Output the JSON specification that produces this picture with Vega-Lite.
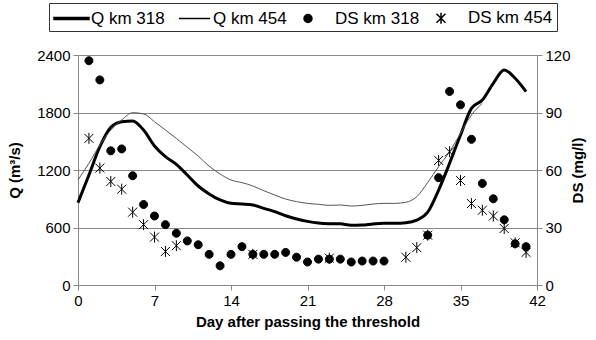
{
  "$schema": "https://vega.github.io/schema/vega-lite/v6.json",
  "width": 459,
  "height": 230,
  "autosize": {"type": "none"},
  "padding": {"left": 78, "top": 55, "right": 59, "bottom": 55},
  "background": "white",
  "config": {
    "view": {"stroke": null},
    "font": "Liberation Sans",
    "axis": {
      "labelFont": "Liberation Sans",
      "labelFontSize": 15,
      "labelColor": "black",
      "titleFont": "Liberation Sans",
      "titleFontSize": 15,
      "titleFontWeight": "bold",
      "titleColor": "black",
      "domainColor": "#888888",
      "tickColor": "#888888",
      "tickSize": 5,
      "labelPadding": 3,
      "gridColor": "#888888",
      "gridOpacity": 1
    }
  },
  "datasets": {
    "q": [
      {"day": 0, "series": "Q km 318", "Q": 859},
      {"day": 1, "series": "Q km 318", "Q": 1148},
      {"day": 2, "series": "Q km 318", "Q": 1443},
      {"day": 3, "series": "Q km 318", "Q": 1645},
      {"day": 4, "series": "Q km 318", "Q": 1704},
      {"day": 5, "series": "Q km 318", "Q": 1712},
      {"day": 6, "series": "Q km 318", "Q": 1617},
      {"day": 7, "series": "Q km 318", "Q": 1450},
      {"day": 8, "series": "Q km 318", "Q": 1339},
      {"day": 9, "series": "Q km 318", "Q": 1259},
      {"day": 10, "series": "Q km 318", "Q": 1148},
      {"day": 11, "series": "Q km 318", "Q": 1033},
      {"day": 12, "series": "Q km 318", "Q": 950},
      {"day": 13, "series": "Q km 318", "Q": 887},
      {"day": 14, "series": "Q km 318", "Q": 852},
      {"day": 15, "series": "Q km 318", "Q": 845},
      {"day": 16, "series": "Q km 318", "Q": 835},
      {"day": 17, "series": "Q km 318", "Q": 800},
      {"day": 18, "series": "Q km 318", "Q": 765},
      {"day": 19, "series": "Q km 318", "Q": 723},
      {"day": 20, "series": "Q km 318", "Q": 689},
      {"day": 21, "series": "Q km 318", "Q": 664},
      {"day": 22, "series": "Q km 318", "Q": 647},
      {"day": 23, "series": "Q km 318", "Q": 640},
      {"day": 24, "series": "Q km 318", "Q": 638},
      {"day": 25, "series": "Q km 318", "Q": 623},
      {"day": 26, "series": "Q km 318", "Q": 626},
      {"day": 27, "series": "Q km 318", "Q": 637},
      {"day": 28, "series": "Q km 318", "Q": 644},
      {"day": 29, "series": "Q km 318", "Q": 644},
      {"day": 30, "series": "Q km 318", "Q": 650},
      {"day": 31, "series": "Q km 318", "Q": 678},
      {"day": 32, "series": "Q km 318", "Q": 760},
      {"day": 33, "series": "Q km 318", "Q": 991},
      {"day": 34, "series": "Q km 318", "Q": 1270},
      {"day": 35, "series": "Q km 318", "Q": 1565},
      {"day": 36, "series": "Q km 318", "Q": 1843},
      {"day": 37, "series": "Q km 318", "Q": 1930},
      {"day": 38, "series": "Q km 318", "Q": 2104},
      {"day": 39, "series": "Q km 318", "Q": 2243},
      {"day": 40, "series": "Q km 318", "Q": 2157},
      {"day": 41, "series": "Q km 318", "Q": 2017},
      {"day": 0, "series": "Q km 454", "Q": 1096},
      {"day": 1, "series": "Q km 454", "Q": 1270},
      {"day": 2, "series": "Q km 454", "Q": 1461},
      {"day": 3, "series": "Q km 454", "Q": 1617},
      {"day": 4, "series": "Q km 454", "Q": 1722},
      {"day": 5, "series": "Q km 454", "Q": 1798},
      {"day": 6, "series": "Q km 454", "Q": 1785},
      {"day": 7, "series": "Q km 454", "Q": 1704},
      {"day": 8, "series": "Q km 454", "Q": 1617},
      {"day": 9, "series": "Q km 454", "Q": 1530},
      {"day": 10, "series": "Q km 454", "Q": 1437},
      {"day": 11, "series": "Q km 454", "Q": 1345},
      {"day": 12, "series": "Q km 454", "Q": 1240},
      {"day": 13, "series": "Q km 454", "Q": 1158},
      {"day": 14, "series": "Q km 454", "Q": 1096},
      {"day": 15, "series": "Q km 454", "Q": 1068},
      {"day": 16, "series": "Q km 454", "Q": 1033},
      {"day": 17, "series": "Q km 454", "Q": 984},
      {"day": 18, "series": "Q km 454", "Q": 939},
      {"day": 19, "series": "Q km 454", "Q": 897},
      {"day": 20, "series": "Q km 454", "Q": 870},
      {"day": 21, "series": "Q km 454", "Q": 852},
      {"day": 22, "series": "Q km 454", "Q": 842},
      {"day": 23, "series": "Q km 454", "Q": 831},
      {"day": 24, "series": "Q km 454", "Q": 835},
      {"day": 25, "series": "Q km 454", "Q": 824},
      {"day": 26, "series": "Q km 454", "Q": 831},
      {"day": 27, "series": "Q km 454", "Q": 845},
      {"day": 28, "series": "Q km 454", "Q": 852},
      {"day": 29, "series": "Q km 454", "Q": 852},
      {"day": 30, "series": "Q km 454", "Q": 863},
      {"day": 31, "series": "Q km 454", "Q": 922},
      {"day": 32, "series": "Q km 454", "Q": 1070},
      {"day": 33, "series": "Q km 454", "Q": 1235},
      {"day": 34, "series": "Q km 454", "Q": 1391},
      {"day": 35, "series": "Q km 454", "Q": 1583},
      {"day": 36, "series": "Q km 454", "Q": 1774},
      {"day": 37, "series": "Q km 454", "Q": 1896}
    ],
    "ds": [
      {"day": 1, "series": "DS km 318", "DS": 117},
      {"day": 2, "series": "DS km 318", "DS": 107},
      {"day": 3, "series": "DS km 318", "DS": 70},
      {"day": 4, "series": "DS km 318", "DS": 71},
      {"day": 5, "series": "DS km 318", "DS": 57},
      {"day": 6, "series": "DS km 318", "DS": 42},
      {"day": 7, "series": "DS km 318", "DS": 36},
      {"day": 8, "series": "DS km 318", "DS": 31.5},
      {"day": 9, "series": "DS km 318", "DS": 27},
      {"day": 10, "series": "DS km 318", "DS": 23},
      {"day": 11, "series": "DS km 318", "DS": 21},
      {"day": 12, "series": "DS km 318", "DS": 16},
      {"day": 13, "series": "DS km 318", "DS": 10},
      {"day": 14, "series": "DS km 318", "DS": 16},
      {"day": 15, "series": "DS km 318", "DS": 20},
      {"day": 16, "series": "DS km 318", "DS": 16},
      {"day": 17, "series": "DS km 318", "DS": 16},
      {"day": 18, "series": "DS km 318", "DS": 16},
      {"day": 19, "series": "DS km 318", "DS": 17},
      {"day": 20, "series": "DS km 318", "DS": 14.5},
      {"day": 21, "series": "DS km 318", "DS": 12},
      {"day": 22, "series": "DS km 318", "DS": 13.5},
      {"day": 23, "series": "DS km 318", "DS": 13.5},
      {"day": 24, "series": "DS km 318", "DS": 13.5},
      {"day": 25, "series": "DS km 318", "DS": 12},
      {"day": 26, "series": "DS km 318", "DS": 12.5},
      {"day": 27, "series": "DS km 318", "DS": 12.5},
      {"day": 28, "series": "DS km 318", "DS": 12.5},
      {"day": 32, "series": "DS km 318", "DS": 26},
      {"day": 33, "series": "DS km 318", "DS": 56},
      {"day": 34, "series": "DS km 318", "DS": 101},
      {"day": 35, "series": "DS km 318", "DS": 94},
      {"day": 36, "series": "DS km 318", "DS": 76},
      {"day": 37, "series": "DS km 318", "DS": 53},
      {"day": 38, "series": "DS km 318", "DS": 45},
      {"day": 39, "series": "DS km 318", "DS": 34},
      {"day": 40, "series": "DS km 318", "DS": 21.5},
      {"day": 41, "series": "DS km 318", "DS": 20},
      {"day": 1, "series": "DS km 454", "DS": 76.5},
      {"day": 2, "series": "DS km 454", "DS": 61},
      {"day": 3, "series": "DS km 454", "DS": 54},
      {"day": 4, "series": "DS km 454", "DS": 50},
      {"day": 5, "series": "DS km 454", "DS": 38},
      {"day": 6, "series": "DS km 454", "DS": 31.5},
      {"day": 7, "series": "DS km 454", "DS": 25},
      {"day": 8, "series": "DS km 454", "DS": 17.5},
      {"day": 9, "series": "DS km 454", "DS": 20.5},
      {"day": 16, "series": "DS km 454", "DS": 16},
      {"day": 23, "series": "DS km 454", "DS": 14},
      {"day": 30, "series": "DS km 454", "DS": 14.5},
      {"day": 31, "series": "DS km 454", "DS": 19.5},
      {"day": 32, "series": "DS km 454", "DS": 26},
      {"day": 33, "series": "DS km 454", "DS": 65},
      {"day": 34, "series": "DS km 454", "DS": 69.5},
      {"day": 35, "series": "DS km 454", "DS": 54.5},
      {"day": 36, "series": "DS km 454", "DS": 42.5},
      {"day": 37, "series": "DS km 454", "DS": 39},
      {"day": 38, "series": "DS km 454", "DS": 36},
      {"day": 39, "series": "DS km 454", "DS": 29.5},
      {"day": 40, "series": "DS km 454", "DS": 22},
      {"day": 41, "series": "DS km 454", "DS": 17}
    ]
  },
  "layer": [
    {
      "data": {"name": "q"},
      "mark": {"type": "line", "interpolate": "monotone"},
      "encoding": {
        "x": {
          "field": "day", "type": "quantitative",
          "scale": {"domain": [0, 42], "nice": false},
          "axis": {"values": [0, 7, 14, 21, 28, 35, 42], "grid": false, "title": "Day after passing the threshold", "titlePadding": 6, "labelFlush": false}
        },
        "y": {
          "field": "Q", "type": "quantitative",
          "scale": {"domain": [0, 2400], "nice": false},
          "axis": {"orient": "left", "values": [0, 600, 1200, 1800, 2400], "format": "d", "grid": true, "title": "Q (m³/s)", "titlePadding": 14, "labelFlush": false}
        },
        "detail": {"field": "series"},
        "color": {"field": "series", "type": "nominal", "scale": {"domain": ["Q km 318", "Q km 454"], "range": ["#000000", "#555555"]}, "legend": null},
        "strokeWidth": {"field": "series", "type": "nominal", "scale": {"domain": ["Q km 318", "Q km 454"], "range": [3, 1]}, "legend": null}
      }
    },
    {
      "data": {"name": "ds"},
      "mark": {"type": "point", "filled": true, "color": "black", "stroke": "black", "strokeWidth": 1, "size": 400, "opacity": 1},
      "encoding": {
        "x": {
          "field": "day", "type": "quantitative",
          "scale": {"domain": [0, 42], "nice": false},
          "axis": {"values": [0, 7, 14, 21, 28, 35, 42], "grid": false, "title": "Day after passing the threshold", "titlePadding": 6, "labelFlush": false}
        },
        "y": {
          "field": "DS", "type": "quantitative",
          "scale": {"domain": [0, 120], "nice": false},
          "axis": {"orient": "right", "values": [0, 30, 60, 90, 120], "format": "d", "grid": false, "title": "DS (mg/l)", "titleAngle": 270, "titleBaseline": "top", "titlePadding": 0, "labelFlush": false}
        },
        "shape": {
          "field": "series", "type": "nominal",
          "scale": {
            "domain": ["Q km 318", "Q km 454", "DS km 318", "DS km 454"],
            "range": [
              "M-1,-0.1L2.5,-0.1L2.5,0.1L-1,0.1Z",
              "M-0.7,0L2.4,0",
              "M-0.4,0A0.4,0.4,0,1,1,0.4,0A0.4,0.4,0,1,1,-0.4,0Z",
              "M-0.45,-0.45L0.45,0.45M-0.45,0.45L0.45,-0.45M0,-0.55L0,0.55"
            ]
          },
          "legend": {
            "title": null,
            "orient": "none",
            "legendX": -29,
            "legendY": -52,
            "direction": "horizontal",
            "columns": 4,
            "gridAlign": "each",
            "columnPadding": 10,
            "padding": 4,
            "strokeColor": "#333333",
            "fillColor": "white",
            "symbolSize": 400,
            "labelFont": "Liberation Sans",
            "labelFontSize": 17,
            "labelColor": "black",
            "labelOffset": 16,
            "encode": {
              "symbols": {"update": {"fill": {"value": "black"}, "stroke": {"value": "black"}, "strokeWidth": {"value": 1}, "opacity": {"value": 1}}},
              "labels": {"update": {"dx": {"signal": "(datum.value == 'DS km 318' || datum.value == 'DS km 454') ? -6 : 0"}}}
            }
          }
        }
      }
    }
  ],
  "resolve": {"scale": {"y": "independent"}}
}
